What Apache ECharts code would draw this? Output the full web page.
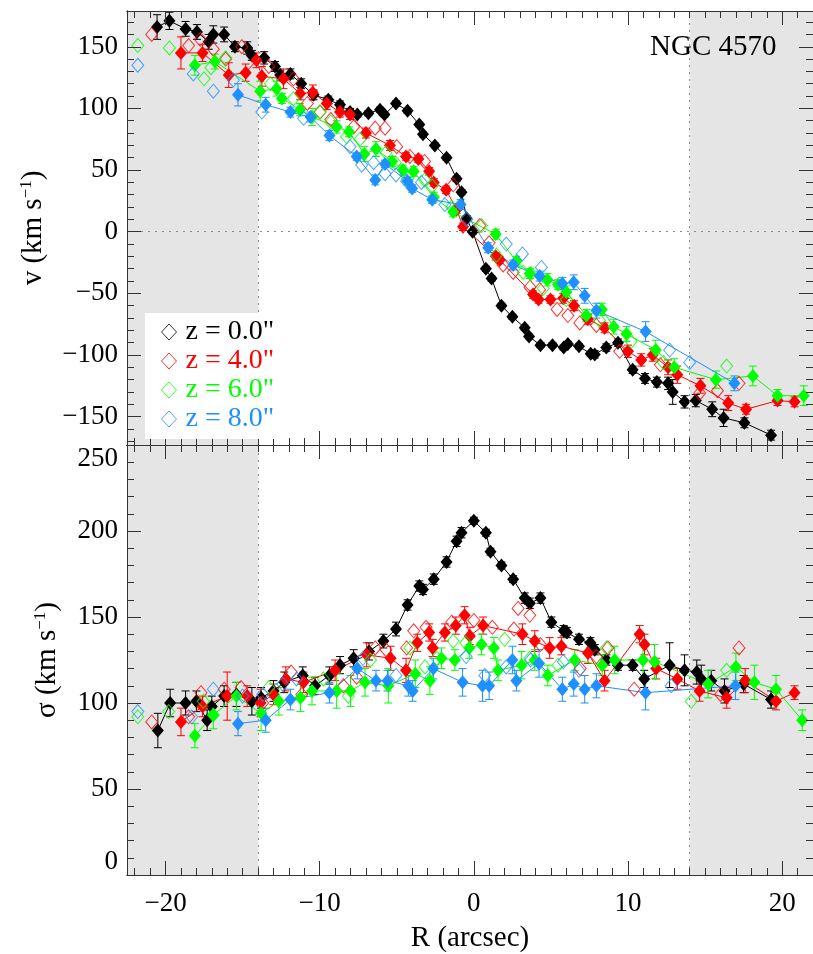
<!DOCTYPE html>
<html><head><meta charset="utf-8">
<script src="https://cdn.jsdelivr.net/npm/echarts@6/dist/echarts.min.js"></script>
<style>html,body{margin:0;padding:0;background:#fff}#c{width:813px;height:954px}</style>
</head><body><div id="c"></div>
<script>
// ---------- DATA: rotation velocity v (km/s) ----------
const blkFillVx = [-20.55,-19.75,-18.7,-17.96,-17.2,-16.9,-16.2,-15.5,-14.7,-14.4,-13.6,-12.9,-12.56,-11.9,-11.2,-10.4,-9.44,-8.68,-8.03,-7.56,-6.84,-6.09,-5.8,-5.05,-4.3,-3.54,-3.3,-2.53,-1.77,-1.12,-0.8,-0.47,-0.08,0.78,1.15,1.79,2.5,3.3,3.58,4.32,5.1,5.83,6.1,6.82,7.58,7.84,8.59,9.35,10.3,11.1,11.87,12.6,12.9,13.67,14.4,15.46,16.2,17.55,19.28];
const blkFillV  = [166,171,164.5,162,154,160,160,150,149,143,141,134,127,128,120,111,107,103,97,95,96,99,95,104,98,87,79,70,60,43,32,11,0,-30,-38,-60,-69,-78,-85,-92,-92,-94,-91,-93,-99,-99.5,-94,-90,-112,-119,-122,-123,-130,-138,-137,-144,-151,-155,-165];
const blkFillVe = [10,7,6,6,6,7,6,4,5,4,5,4,4,4,4,4,3,3,3,2,2,2,2,2,2,2,2,2,2,2,2,2,2,2,2,2,2,2,2,2,2,2,2,2,2,3,3,3,3,4,4,5,10,5,5,6,7,4,4];

const redFillVx = [-19.0,-17.6,-15.9,-14.8,-14.1,-13.75,-12.35,-11.27,-10.45,-9.54,-8.68,-8.03,-7.0,-5.44,-4.4,-3.6,-2.9,-2.6,-1.8,-1.12,-0.7,1.42,1.68,3.84,4.2,4.97,5.8,6.5,7.4,8.48,10.0,10.86,11.6,12.6,13.2,14.7,16.5,17.66,19.7,20.8];
const redFillV  = [145,145,127,129,139,126,124,112,113,104,97,95,80,70,61,59,49,40,34,18,4,-20,-23,-51,-55,-55,-54,-60,-71,-78,-97,-104,-100,-110,-116,-125,-139,-144,-137,-138];
const redFillVe = [13,7,10,7,6,8,8,5,6,5,4,4,4,4,3,3,3,3,3,3,3,3,3,3,3,3,4,4,4,4,5,5,5,6,7,6,6,4,4,4];
const redOpenVx = [-20.9,-18.5,-17.75,-16.9,-16.1,-15.05,-13.3,-11.7,-10.8,-9.97,-9.28,-7.8,-6.4,-5.76,-5.0,-4.15,-3.2,-1.34,0.39,0.99,1.9,2.55,3.64,4.27,5.4,6.1,6.87,7.95,9.46,12.1,14.65,15.8,17.2];
const redOpenV  = [160,151,156,148,140,150,134,124,104,97,91,85,84,84,69,61,57,38,5,-9,-27,-33,-45,-47,-63,-68,-74,-76,-97,-108,-131,-129,-123];

const grnFillVx = [-18.1,-16.8,-13.86,-12.8,-12.45,-11.27,-10.5,-8.9,-8.1,-7.1,-6.35,-5.3,-4.6,-3.9,-2.6,-1.34,1.42,2.76,3.63,4.77,5.46,6.0,7.3,8.3,9.07,9.9,11.8,13.0,15.7,18.1,19.7,21.4];
const grnFillV  = [135,138,114,116,108,99,93,85,81,63,67,57,50,49,28,16,-2,-24,-34,-39,-43,-49,-68,-63,-77,-83,-96,-110,-120,-117,-133,-133];
const grnFillVe = [8,6,8,6,4,5,7,5,4,6,6,4,4,4,4,4,4,4,4,5,4,5,5,5,6,6,8,7,7,8,5,8];
const grnOpenVx = [-21.8,-19.75,-17.5,-17.05,-16.1,-13.2,-11.7,-10.0,-9.28,-8.25,-7.38,-5.7,-5.1,-4.3,-3.2,-2.7,-1.44,0.5,1.47,3.2,3.7,4.5,6.0,8.16,10.2,12.3,16.4];
const grnOpenV  = [151,149,124,133,141,120,108,97,89,77,75,64,56,43,42,37,20,5,-19,-33,-34,-46,-55,-72,-89,-106,-109];

const bluFillVx = [-15.3,-13.5,-11.9,-10.6,-9.37,-7.6,-6.4,-5.76,-4.3,-4.0,-2.7,-0.86,0.93,2.55,4.27,5.74,6.48,7.19,7.95,11.14,16.9];
const bluFillV  = [111,103,97,93,78,61,42,55,41,35,26,22,-13,-27,-36,-42,-41,-52,-64,-81,-123];
const bluFillVe = [9,6,4,4,4,3,4,3,3,3,3,4,4,4,4,5,6,6,6,8,6];
const bluOpenVx = [-21.8,-18.2,-16.9,-15.6,-13.75,-11.05,-8.03,-7.27,-6.5,-5.76,-5.05,-4.36,-3.4,-1.88,-0.47,2.1,3.15,4.38,12.7,14.0];
const bluOpenV  = [135,128,114,123,97,92,69,54,56,47,46,41,40,22,10,-10,-18,-29,-96,-106];

const blkOpenVx = [];
const blkOpenV  = [];

// ---------- DATA: velocity dispersion sigma (km/s) ----------
const blkFillSx = [-20.5,-19.7,-18.7,-18.0,-17.3,-17.0,-16.2,-15.4,-14.4,-13.8,-13.0,-12.3,-11.1,-10.3,-9.37,-8.68,-7.8,-6.8,-5.87,-5.05,-4.3,-3.54,-3.3,-2.6,-1.77,-1.12,-0.8,0,0.78,1.08,1.79,2.55,3.3,3.63,4.32,5.03,5.83,6.04,6.82,7.56,7.84,8.6,9.35,10.3,11.05,12.7,13.67,14.46,14.75,15.4,16.26,17.5,19.28];
const blkFillS  = [84,100,100,101,90,98,104,105,101,103,107,112,116,110,116,122,126,130,136,143,157,168,166,172,182,194,199,206,199,188,180,172,161,158,161,147,142,141,137,135,131,125,122,122,114,122,119,118,114,113,107,111,102];
const blkFillSe = [10,8,7,6,6,6,6,7,8,6,6,6,5,5,5,5,5,5,4,4,3,3,3,3,3,3,3,2,2,2,2,2,3,3,3,3,3,3,3,3,3,3,3,3,5,13,9,7,8,6,7,5,5];
const blkOpenSx = [];
const blkOpenS  = [];

const redFillSx = [-19.0,-17.6,-16.0,-14.7,-13.84,-13.0,-12.2,-11.05,-9.0,-6.95,-5.4,-4.4,-3.67,-2.9,-2.67,-1.88,-1.17,-0.6,-0.26,0.6,3.15,3.95,4.92,5.68,7.4,8.48,10.75,11.07,11.83,13.2,14.64,16.4,17.6,19.6,20.8];
const redFillS  = [89,98,104,104,100,105,114,112,119,128,126,119,135,141,132,141,145,151,139,145,140,136,132,133,129,113,140,134,120,114,107,103,113,101,106];
const redFillSe = [8,6,14,6,8,6,7,6,6,7,7,7,5,5,5,5,5,5,5,5,6,6,6,5,6,6,5,6,6,6,6,6,7,5,4];
const redOpenSx = [-20.9,-18.5,-17.7,-16.2,-15.1,-13.7,-11.85,-11.16,-8.46,-7.6,-6.4,-5.7,-4.36,-3.9,-3.1,-1.44,0,1.2,2.6,2.87,3.63,4.32,6.9,7.95,8.7,10.4,16.0,17.2];
const redOpenS  = [89,92,106,108,109,100,118,105,110,115,132,131,132,142,144,147,148,144,143,155,151,134,120,127,132,108,105,132];

const grnFillSx = [-18.1,-16.9,-15.4,-13.8,-12.65,-11.25,-10.5,-8.9,-8.0,-7.06,-5.55,-3.8,-2.85,-2.1,-1.23,-0.3,0.5,1.3,1.57,3.1,3.95,4.8,6.54,8.33,9.13,10.97,11.72,15.2,17.0,18.2,19.6,21.3];
const grnFillS  = [81,93,104,94,101,103,107,107,107,112,110,117,113,126,125,132,134,132,119,122,125,116,125,122,125,125,124,111,121,112,108,90];
const grnFillSe = [7,8,8,10,8,8,8,10,9,8,10,8,8,6,6,6,6,6,6,8,6,6,6,6,8,10,10,8,8,10,8,6];
const grnOpenSx = [-21.8,-19.8,-17.55,-16.9,-13.3,-9.76,-8.14,-6.7,-4.15,-3.17,-2.4,-1.34,-0.52,2.0,3.63,5.46,8.6,14.1,16.4];
const grnOpenS  = [92,95,101,93,109,114,104,125,132,121,126,136,135,137,126,122,132,101,119];

const bluFillSx = [-15.3,-13.5,-11.9,-9.37,-7.56,-6.35,-5.6,-4.25,-3.97,-2.63,-0.73,0.56,0.99,2.5,2.76,4.23,5.74,6.48,7.19,7.95,11.14,16.97];
const bluFillS  = [88,90,102,106,120,113,113,110,107,120,112,110,110,125,113,123,108,111,108,110,106,110];
const bluFillSe = [7,7,6,6,6,6,6,6,6,6,8,9,8,8,6,8,7,7,8,7,10,8];
const bluOpenSx = [-21.8,-18.3,-16.9,-15.0,-13.7,-12.4,-11.5,-7.2,-5.05,-0.5,0.71,2.1,3.67,5.8,6.82,12.8];
const bluOpenS  = [95,92,108,104,105,111,114,126,116,127,116,121,125,124,119,110];

// ---------- labels / ticks ----------
const seriesNames = ['z = 0.0"','z = 4.0"','z = 6.0"','z = 8.0"'];
const xMajorTicks = [-20,-10,0,10,20];
const vMajorTicks = [-150,-100,-50,0,50,100,150];
const titleText = 'NGC 4570';
const shadeEdges = [-14, 14];

// ---------- styling ----------
const FONT = '"Liberation Serif","Times New Roman",serif';
const COLORS = ['#000000','#ff0000','#00ff00','#1e90ff'];
const AX = '#333333';
const XMIN = -22.5, XMAX = 22, VMIN = -173, VMAX = 179, SMIN = 0, SMAX = 250;
const xMinorTicks = []; for (let i = -22; i <= 21; i++) xMinorTicks.push(i);
const vMinorTicks = []; for (let i = -170; i <= 170; i += 10) vMinorTicks.push(i);
const minus = v => String(v).replace('-', '\u2212');

function xAxisDef(grid, pos, ticks, len, showLabel, extra) {
  return Object.assign({
    type: 'value', gridIndex: grid, position: pos, min: XMIN, max: XMAX, z: 10,
    axisLine: { show: true, onZero: false, lineStyle: { color: AX, width: 1 } },
    splitLine: { show: false },
    axisTick: { show: true, inside: true, length: len, customValues: ticks, lineStyle: { color: AX, width: 1 } },
    axisLabel: { show: showLabel, customValues: xMajorTicks, margin: 15, fontFamily: FONT, fontSize: 27, color: '#000', formatter: minus }
  }, extra || {});
}
function vAxisDef(pos, ticks, len, showLabel, extra) {
  return Object.assign({
    type: 'value', gridIndex: 0, position: pos, min: VMIN, max: VMAX, z: 10,
    axisLine: { show: true, onZero: false, lineStyle: { color: AX, width: 1 } },
    splitLine: { show: false },
    axisTick: { show: true, inside: true, length: len, customValues: ticks, lineStyle: { color: AX, width: 1 } },
    axisLabel: { show: showLabel, customValues: vMajorTicks, margin: 9, fontFamily: FONT, fontSize: 27, color: '#000', formatter: minus }
  }, extra || {});
}
function sAxisDef(pos, showLabel, extra) {
  return Object.assign({
    type: 'value', gridIndex: 1, position: pos, min: SMIN, max: SMAX, interval: 50, z: 10,
    axisLine: { show: true, onZero: false, lineStyle: { color: AX, width: 1 } },
    splitLine: { show: false },
    axisTick: { show: true, inside: true, length: 14, lineStyle: { color: AX, width: 1 } },
    minorTick: { show: true, splitNumber: 5, length: 7, lineStyle: { color: AX, width: 1 } },
    axisLabel: { show: showLabel, margin: 9, fontFamily: FONT, fontSize: 27, color: '#000',
      verticalAlignMinLabel: 'bottom', verticalAlignMaxLabel: 'top' }
  }, extra || {});
}

const xAxes = [
  xAxisDef(0, 'bottom', xMajorTicks, 14, false),
  xAxisDef(0, 'top', xMajorTicks, 14, false),
  xAxisDef(0, 'bottom', xMinorTicks, 7, false),
  xAxisDef(0, 'top', xMinorTicks, 7, false),
  xAxisDef(1, 'bottom', xMajorTicks, 14, true, {
    name: 'R (arcsec)', nameLocation: 'middle', nameGap: 49,
    nameTextStyle: { fontFamily: FONT, fontSize: 29, color: '#000' } }),
  xAxisDef(1, 'top', xMajorTicks, 14, false),
  xAxisDef(1, 'bottom', xMinorTicks, 7, false),
  xAxisDef(1, 'top', xMinorTicks, 7, false)
];
const supRich = { sup: { fontFamily: FONT, fontSize: 17, color: '#000', padding: [0, 0, 13, 0] } };
const yAxes = [
  vAxisDef('left', vMajorTicks, 14, true, {
    name: 'v (km s{sup|\u22121})', nameLocation: 'middle', nameGap: 79, nameRotate: 90,
    nameTextStyle: { fontFamily: FONT, fontSize: 29, color: '#000', rich: supRich } }),
  vAxisDef('right', vMajorTicks, 14, false),
  vAxisDef('left', vMinorTicks, 7, false),
  vAxisDef('right', vMinorTicks, 7, false),
  sAxisDef('left', true, {
    name: '\u03c3 (km s{sup|\u22121})', nameLocation: 'middle', nameGap: 65, nameRotate: 90,
    nameTextStyle: { fontFamily: FONT, fontSize: 29, color: '#000', rich: supRich } }),
  sAxisDef('right', false)
];

function pairs(xs, ys) { return xs.map((x, i) => [x, ys[i]]); }
function triples(xs, ys, es) { return xs.map((x, i) => [x, ys[i], es[i] || 0]); }

function errSeries(name, color, data, xi, yi) {
  return {
    name: name, type: 'custom', xAxisIndex: xi, yAxisIndex: yi, z: 3, clip: true, silent: true,
    encode: { x: 0, y: 1 }, data: data,
    renderItem: function (params, api) {
      const x = api.value(0), y = api.value(1), e = api.value(2);
      const lo = api.coord([x, y - e]), hi = api.coord([x, y + e]);
      const w = 4, st = { stroke: color, lineWidth: 1 };
      return { type: 'group', children: [
        { type: 'line', shape: { x1: lo[0], y1: lo[1], x2: hi[0], y2: hi[1] }, style: st },
        { type: 'line', shape: { x1: lo[0] - w, y1: lo[1], x2: lo[0] + w, y2: lo[1] }, style: st },
        { type: 'line', shape: { x1: hi[0] - w, y1: hi[1], x2: hi[0] + w, y2: hi[1] }, style: st }
      ] };
    }
  };
}
function fillSeries(name, color, data, xi, yi) {
  return {
    name: name, type: 'line', xAxisIndex: xi, yAxisIndex: yi, z: 4, clip: true, silent: true,
    data: data, symbol: 'diamond', symbolSize: [12, 14], showSymbol: true,
    lineStyle: { color: color, width: 1 }, itemStyle: { color: color }, animation: false
  };
}
function openSeries(name, color, data, xi, yi) {
  return {
    name: name, type: 'scatter', xAxisIndex: xi, yAxisIndex: yi, z: 4, clip: true, silent: true,
    data: data, symbol: 'diamond', symbolSize: [12, 14],
    itemStyle: { color: 'rgba(0,0,0,0)', borderColor: color, borderWidth: 1 }, animation: false
  };
}
function backSeries(xi, yi, withZero) {
  const lines = shadeEdges.map(v => ({ xAxis: v }));
  if (withZero) lines.push({ yAxis: 0 });
  return {
    type: 'line', xAxisIndex: xi, yAxisIndex: yi, z: 1, data: [], silent: true,
    markArea: { silent: true, itemStyle: { color: '#e5e5e5' },
      data: [[{ xAxis: XMIN }, { xAxis: shadeEdges[0] }], [{ xAxis: shadeEdges[1] }, { xAxis: XMAX }]] },
    markLine: { silent: true, symbol: 'none', label: { show: false },
      lineStyle: { color: '#8a8a8a', width: 1, type: [2, 5] }, data: lines }
  };
}

const vSets = [
  [blkFillVx, blkFillV, blkFillVe, blkOpenVx, blkOpenV],
  [redFillVx, redFillV, redFillVe, redOpenVx, redOpenV],
  [grnFillVx, grnFillV, grnFillVe, grnOpenVx, grnOpenV],
  [bluFillVx, bluFillV, bluFillVe, bluOpenVx, bluOpenV]
];
const sSets = [
  [blkFillSx, blkFillS, blkFillSe, blkOpenSx, blkOpenS],
  [redFillSx, redFillS, redFillSe, redOpenSx, redOpenS],
  [grnFillSx, grnFillS, grnFillSe, grnOpenSx, grnOpenS],
  [bluFillSx, bluFillS, bluFillSe, bluOpenSx, bluOpenS]
];

const series = [backSeries(0, 0, true), backSeries(4, 4, false)];
[[vSets, 0, 0], [sSets, 4, 4]].forEach(([sets, xi, yi]) => {
  sets.forEach((s, i) => {
    const nm = seriesNames[i], c = COLORS[i];
    series.push(openSeries(nm, c, pairs(s[3], s[4]), xi, yi));
    series.push(errSeries(nm, c, triples(s[0], s[1], s[2]), xi, yi));
    series.push(fillSeries(nm, c, pairs(s[0], s[1]), xi, yi));
  });
});

const chart = echarts.init(document.getElementById('c'), null, { renderer: 'canvas' });
chart.setOption({
  animation: false,
  backgroundColor: '#ffffff',
  title: { text: titleText, left: 650, top: 33, padding: 0,
    textStyle: { fontFamily: FONT, fontSize: 29, fontWeight: 'normal', color: '#000' } },
  legend: {
    orient: 'vertical', left: 145, top: 313, padding: [5, 14, 6, 16],
    backgroundColor: '#ffffff', itemWidth: 15, itemHeight: 16, itemGap: 1, selectedMode: false, z: 20,
    textStyle: { fontFamily: FONT, fontSize: 28, lineHeight: 26, padding: [0, 0, 0, 4] },
    data: seriesNames.map((n, i) => ({ name: n, icon: 'diamond',
      itemStyle: { color: 'rgba(0,0,0,0)', borderColor: COLORS[i], borderWidth: 1 },
      textStyle: { color: COLORS[i] } }))
  },
  grid: [
    { left: 127, top: 11, width: 687, height: 434 },
    { left: 127, top: 445, width: 687, height: 433 }
  ],
  xAxis: xAxes,
  yAxis: yAxes,
  series: series
});
</script>
</body></html>
